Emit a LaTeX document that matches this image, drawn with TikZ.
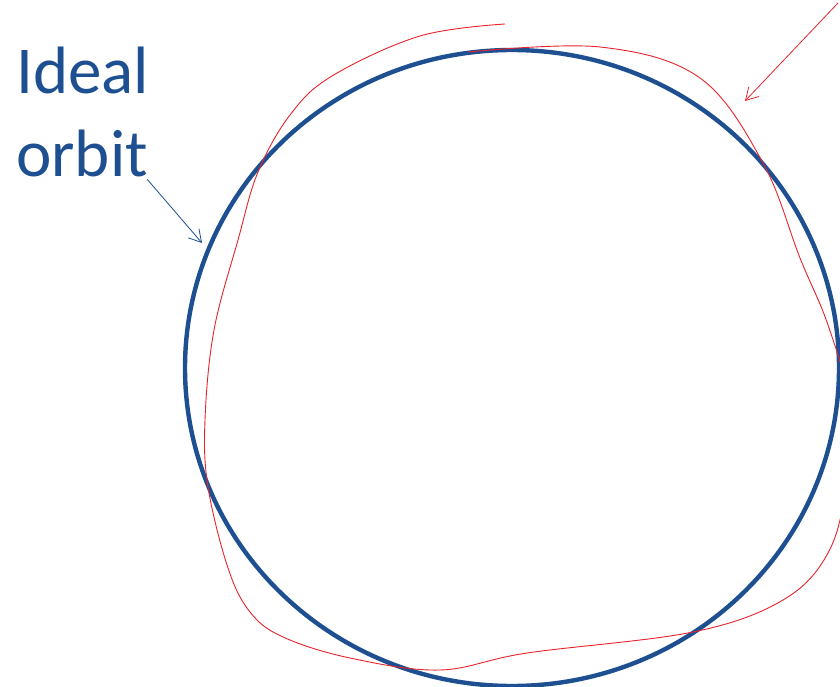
\documentclass[tikz,border=0pt]{standalone}
\usepackage{fontspec}
\setmainfont{Carlito}
\usetikzlibrary{arrows.meta, shapes.geometric}

\definecolor{orbitblue}{HTML}{1D4F91}
\definecolor{realred}{HTML}{E8232B}

\begin{document}
\begin{tikzpicture}[
    x=1pt, y=-1pt,
    ideal/.style={
        ellipse,
        draw=orbitblue,
        line width=4.4pt,
        inner sep=0pt,
        minimum width=654pt,
        minimum height=636pt
    },
    actual/.style={
        draw=realred,
        line width=0.9pt
    },
    pointer/.style={
        -{Straight Barb[length=12pt, width=14pt]},
        line width=0.8pt
    },
    caption/.style={
        text=orbitblue,
        align=left,
        inner sep=0pt,
        font=\fontsize{67}{83}\selectfont
    }
]
\useasboundingbox (0,0) rectangle (840,687);

% Label
\node[caption, anchor=north west] (label) at (16,47) {Ideal\\orbit};

% Ideal orbit
\node[ideal] (orbit) at (512,368) {};

% Perturbed orbit (wobbly)
\draw[actual] plot[smooth, tension=0.6] coordinates {
    (468,52) (600,47) (700,78) (763,163) (800,258) (828,325) (848,400)
    (846,485) (828,553) (783,600) (693,632) (527,653) (440,670) (350,658)
    (283,637) (250,612) (228,568) (208,487) (205,420) (214,330) (238,240)
    (258,172) (290,115) (332,76) (420,36) (505,24)};

% Pointers
\coordinate (tipblue) at (202,243);
\coordinate (tailred) at (838,3);
\coordinate (tipred) at (745,101);
\draw[pointer, draw=orbitblue] (label.south east) ++(-2,2) -- (tipblue);
\draw[pointer, draw=realred] (tailred) -- (tipred);
\end{tikzpicture}
\end{document}
